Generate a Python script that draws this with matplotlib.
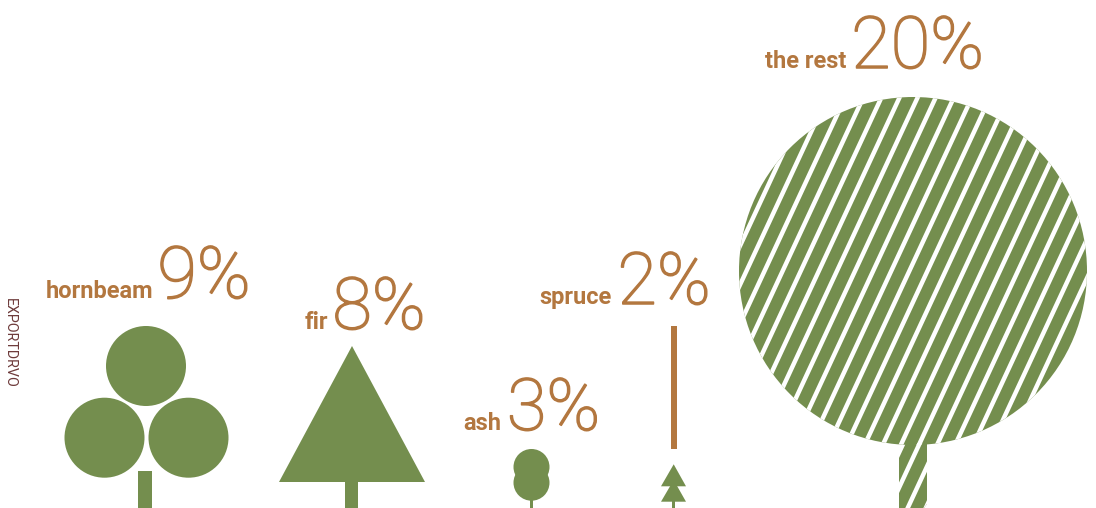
#!/usr/bin/env python
# -*- coding: utf-8 -*-
import matplotlib
matplotlib.use("Agg")
import matplotlib.pyplot as plt
import matplotlib.patheffects as pe
from matplotlib.patches import Circle, Polygon, Rectangle
import numpy as np

# ---------- data ----------
NAMES = ["hornbeam", "fir", "ash", "spruce", "the rest"]
SHARES = [9, 8, 3, 2, 20]
SIDE_LABEL = "EXPORTDRVO"

COLOR_TREE = "#748e4e"
COLOR_TEXT = "#b3773f"
COLOR_SIDE = "#6e3b3b"

FONT = ["Roboto", "DejaVu Sans"]
STRIPE_SLOPE = 2.15
STRIPE_STEP = 18.1


def add_label(ax, name, share, x_name, x_value, base):
    ax.text(x_name, base, name, fontsize=17, fontweight="bold", family=FONT,
            color=COLOR_TEXT, ha="center", va="baseline")
    # only the thin cut is picked up, a stroke brings it to the reference weight
    ax.text(x_value, base, f"{share}%", fontsize=52, fontweight="light", family=FONT,
            color=COLOR_TEXT, ha="center", va="baseline",
            path_effects=[pe.withStroke(linewidth=1.1, foreground=COLOR_TEXT)])


def draw_rest(ax):
    # crown + trunk, white stripes on top
    crown = Circle((913, 271), 174, color=COLOR_TREE, lw=0)
    ax.add_patch(crown)
    trunk = Polygon([(899, 458), (906, 443), (927, 443), (927, 504), (924, 508), (899, 508)],
                    closed=True, color=COLOR_TREE, lw=0)
    ax.add_patch(trunk)

    y0, y1 = 60, 520
    for k in range(-3, 30):
        x_mid = 765 + STRIPE_STEP * k  # stripe position at y=270
        xs = [x_mid + (270 - y0) / STRIPE_SLOPE, x_mid + (270 - y1) / STRIPE_SLOPE]
        for patch in (crown, trunk):
            line, = ax.plot(xs, [y0, y1], color="white", lw=3.2, solid_capstyle="butt")
            line.set_clip_path(patch)


def main():
    fig = plt.figure(figsize=(10.96, 5.08), dpi=100)
    ax = fig.add_axes([0, 0, 1, 1])
    ax.set_xlim(0, 1096)
    ax.set_ylim(508, 0)
    ax.axis("off")

    # hornbeam
    for xy in [(146, 366), (104.5, 437.7), (188.5, 437.7)]:
        ax.add_patch(Circle(xy, 40, color=COLOR_TREE, lw=0))
    ax.add_patch(Rectangle((138.3, 471), 13.7, 37, color=COLOR_TREE, lw=0))
    add_label(ax, NAMES[0], SHARES[0], 99.5, 204, 298)

    # fir
    ax.add_patch(Polygon([(352, 346), (279, 482), (425, 482)], closed=True, color=COLOR_TREE, lw=0))
    ax.add_patch(Rectangle((345, 482), 13, 26, color=COLOR_TREE, lw=0))
    add_label(ax, NAMES[1], SHARES[1], 316, 379, 329)

    # ash
    for xy in [(531.5, 467), (531.5, 482.7)]:
        ax.add_patch(Circle(xy, 18, color=COLOR_TREE, lw=0))
    ax.add_patch(Rectangle((530, 500), 3, 8, color=COLOR_TREE, lw=0))
    add_label(ax, NAMES[2], SHARES[2], 482.5, 553.5, 430)

    # spruce
    ax.add_patch(Rectangle((671, 326), 5.5, 123, color=COLOR_TEXT, lw=0))
    ax.add_patch(Polygon([(673.7, 464.3), (661, 486.3), (686, 486.3)], closed=True, color=COLOR_TREE, lw=0))
    ax.add_patch(Polygon([(673.7, 480), (661, 501.7), (686, 501.7)], closed=True, color=COLOR_TREE, lw=0))
    ax.add_patch(Rectangle((672.3, 501), 3, 7, color=COLOR_TREE, lw=0))
    add_label(ax, NAMES[3], SHARES[3], 576, 664, 304)

    # the rest
    draw_rest(ax)
    add_label(ax, NAMES[4], SHARES[4], 805.5, 917.5, 68)

    ax.text(9.5, 298, SIDE_LABEL, rotation=-90, fontsize=10.3, family=FONT, color=COLOR_SIDE,
            ha="center", va="top")

    fig.savefig("out.png", dpi=100)
    plt.close(fig)


if __name__ == "__main__":
    main()
